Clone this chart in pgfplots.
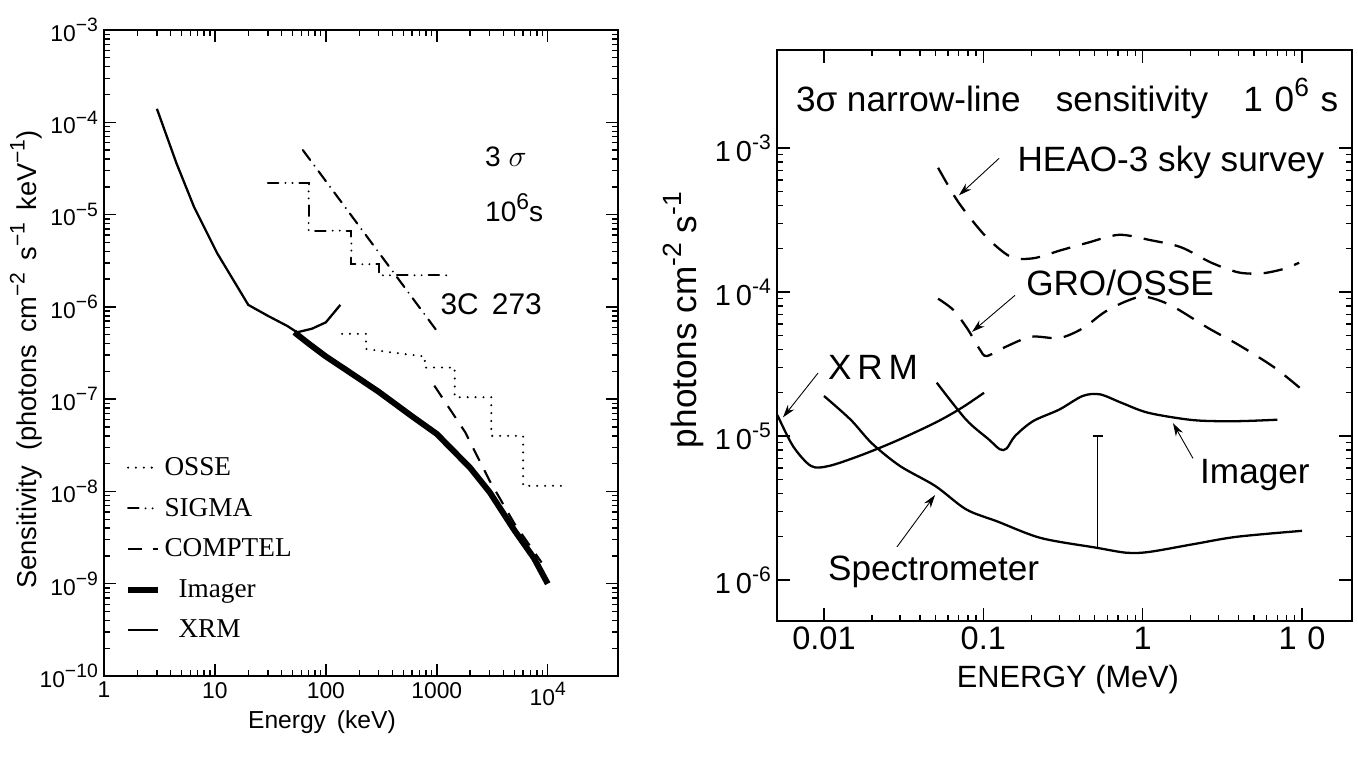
\documentclass[border=0pt]{standalone}
\usepackage{fontspec}
\setmainfont{Liberation Sans}
\newfontfamily\legfont{Liberation Serif}
\usepackage{pgfplots}
\pgfplotsset{compat=1.18}
\usetikzlibrary{arrows.meta}
% raised exponent of a given size
\newcommand\sups[2]{\raisebox{0.42em}{\fontsize{#1}{#1}\selectfont #2}}
\newcommand\lexp[1]{10\sups{11}{−#1}}
\newcommand\rexp[1]{1\,0\sups{12}{-#1}}

\begin{document}
\begin{tikzpicture}
\useasboundingbox (0,0) rectangle (271.6mm,152mm);

% ---------------- left panel: continuum sensitivity ----------------
\begin{axis}[
  at={(20.8mm,16.8mm)}, anchor=south west,
  width=102.8mm, height=129.2mm, scale only axis,
  xmode=log, ymode=log,
  xmin=1, xmax=4.3e4, ymin=1e-10, ymax=1e-3,
  xtick={1,10,100,1000,10000},
  xticklabels={1,10,100,1000,10\sups{11}{4}},
  ytick={1e-10,1e-9,1e-8,1e-7,1e-6,1e-5,1e-4,1e-3},
  yticklabels={\lexp{10},\lexp{9},\lexp{8},\lexp{7},\lexp{6},\lexp{5},\lexp{4},\lexp{3}},
  tick align=inside, major tick length=2.4mm, minor tick length=1.2mm,
  tick style={black, line width=0.8pt},
  axis line style={line width=1.3pt},
  tick label style={font=\fontsize{13}{15}\selectfont},
  xlabel={Energy\, (keV)},
  ylabel={Sensitivity\ \ (photons\, cm\sups{12}{−2}\, s\sups{12}{−1}\, keV\sups{12}{−1})},
  xlabel style={font=\fontsize{14}{16}\selectfont, at={(axis description cs:0.424,-0.071)}, anchor=center},
  ylabel style={font=\fontsize{15.5}{17}\selectfont, at={(axis description cs:-0.152,0.49)}, anchor=center},
  legend style={draw=none, fill=none, at={(0.03,0.35)}, anchor=north west,
    font=\legfont\fontsize{15.5}{17}\selectfont, row sep=2.6mm, legend cell align=left},
]
% OSSE
\addplot[black, line width=1.3pt, line cap=round, dash pattern=on 0pt off 4.5pt] coordinates {
(140,5.1e-7) (230,5.1e-7) (230,3.5e-7) (400,3.2e-7) (780,2.9e-7) (780,2.2e-7)
(1450,2.2e-7) (1450,1.05e-7) (3100,1.05e-7) (3100,4e-8) (6000,4e-8)
(6000,1.15e-8) (1.5e4,1.15e-8)};
\addlegendentry{OSSE}
% SIGMA
\addplot[black, line width=1.2pt, line cap=round, dash pattern=on 6pt off 4pt on 0pt off 4pt on 0pt off 4pt] coordinates {
(30,2.2e-5) (70,2.2e-5) (70,6.7e-6) (170,6.7e-6) (170,2.9e-6) (300,2.9e-6) (300,2.2e-6) (1300,2.2e-6)};
\addlegendentry{SIGMA}
% COMPTEL
\addplot[black, line width=1.2pt, dash pattern=on 8pt off 6pt] coordinates {
(950,1.4e-7) (1800,4.4e-8) (3000,1.3e-8) (5000,4.5e-9) (8800,1.7e-9)};
\addlegendentry{COMPTEL}
% Imager
\addplot[black, line width=3.4pt] coordinates {
(52,5.3e-7) (70,4e-7) (100,2.9e-7) (150,2.1e-7) (300,1.2e-7) (600,6.5e-8)
(1000,4.2e-8) (2000,1.8e-8) (3000,9.8e-9) (5000,3.8e-9) (7500,1.9e-9) (10000,1e-9)};
\addlegendentry{\hspace{2.8mm}Imager}
% XRM
\addplot[black, line width=1.3pt] coordinates {
(3,1.4e-4) (4.5,3.6e-5) (6.5,1.2e-5) (10.5,3.8e-6) (20,1.05e-6) (30,8e-7) (45,6.2e-7) (55,5.3e-7)
(75,5.8e-7) (100,6.8e-7) (135,1.05e-6)};
\addlegendentry{\hspace{2.8mm}XRM}
% 3C 273
\addplot[black, line width=1.2pt, line cap=round, dash pattern=on 7pt off 4pt on 0pt off 4pt, forget plot] coordinates {
(62,5e-5) (1000,5.5e-7)};

\node[anchor=west, font=\fontsize{16}{18}\selectfont] at (axis cs:2400,4.2e-5) {3 $\sigma$};
\node[anchor=west, font=\fontsize{16}{18}\selectfont] at (axis cs:2400,1.2e-5) {10\sups{13}{6}s};
\node[anchor=west, font=\fontsize{17}{19}\selectfont] at (axis cs:950,1.07e-6) {3C\, 273};
\end{axis}

% ---------------- right panel: narrow-line sensitivity ----------------
\begin{axis}[
  at={(155.4mm,27.8mm)}, anchor=south west,
  width=115mm, height=114.2mm, scale only axis,
  xmode=log, ymode=log,
  xmin=0.00507, xmax=20.6, ymin=5.2e-7, ymax=4.8e-3,
  xtick={0.01,0.1,1,10},
  xticklabels={0.01,0.1,1,1\,\,0},
  ytick={1e-6,1e-5,1e-4,1e-3},
  yticklabels={\rexp{6},\rexp{5},\rexp{4},\rexp{3}},
  tick align=inside, major tick length=2.6mm, minor tick length=1.3mm,
  tick style={black, line width=0.8pt},
  axis line style={line width=1.1pt},
  xticklabel style={font=\fontsize{18.5}{20}\selectfont},
  yticklabel style={font=\fontsize{16.5}{18}\selectfont},
  xlabel={ENERGY (MeV)},
  ylabel={photons cm\sups{15}{-2} s\sups{15}{-1}},
  xlabel style={font=\fontsize{17.5}{19}\selectfont, at={(axis description cs:0.506,-0.103)}, anchor=center},
  ylabel style={font=\fontsize{20}{22}\selectfont, at={(axis description cs:-0.163,0.527)}, anchor=center},
]
% HEAO-3 sky survey
\addplot[black, line width=1.3pt, smooth, dash pattern=on 11pt off 7pt] coordinates {
(0.052,7.3e-4) (0.067,4.5e-4) (0.084,3.2e-4) (0.109,2.3e-4) (0.15,1.75e-4) (0.207,1.72e-4)
(0.305,1.95e-4) (0.45,2.2e-4) (0.71,2.5e-4) (1.11,2.3e-4) (1.74,2.05e-4) (2.7,1.6e-4)
(4.0,1.37e-4) (5.6,1.35e-4) (7.7,1.45e-4) (9.6,1.6e-4)};
% GRO/OSSE
\addplot[black, line width=1.3pt, smooth, dash pattern=on 11pt off 7pt] coordinates {
(0.052,9e-5) (0.065,7.5e-5) (0.08,5.5e-5) (0.095,4.0e-5) (0.105,3.6e-5) (0.14,4.2e-5)
(0.2,4.9e-5) (0.3,4.8e-5) (0.42,5.6e-5) (0.58,7.3e-5) (0.8,8.7e-5) (1.03,9.3e-5)
(1.5,8.1e-5) (2.6,5.6e-5) (4.0,4.3e-5) (6.7,3.0e-5) (10,2.1e-5)};
% Spectrometer
\addplot[black, line width=1.3pt, smooth] coordinates {
(0.01,1.9e-5) (0.0147,1.3e-5) (0.02,8.9e-6) (0.03,6.2e-6) (0.05,4.5e-6) (0.078,3.1e-6)
(0.123,2.55e-6) (0.23,1.96e-6) (0.51,1.68e-6) (0.79,1.55e-6) (1.1,1.57e-6) (2.1,1.78e-6)
(3.9,2.0e-6) (10,2.2e-6)};
% XRM
\addplot[black, line width=1.3pt, smooth] coordinates {
(0.0051,1.4e-5) (0.0064,8.5e-6) (0.0083,6.2e-6) (0.0107,6.2e-6) (0.0167,7.3e-6)
(0.028,9.2e-6) (0.05,1.24e-5) (0.073,1.57e-5) (0.101,2.0e-5)};
% Imager
\addplot[black, line width=1.3pt, smooth] coordinates {
(0.051,2.35e-5) (0.078,1.3e-5) (0.108,9.5e-6) (0.127,8.1e-6) (0.14,8.2e-6) (0.158,1e-5)
(0.205,1.27e-5) (0.3,1.53e-5) (0.42,1.9e-5) (0.54,1.95e-5) (0.74,1.7e-5) (1.09,1.45e-5)
(2.1,1.29e-5) (3.9,1.27e-5) (7.0,1.3e-5)};
% 511 keV line
\addplot[black, line width=0.5pt] coordinates {(0.52,1.68e-6) (0.52,1e-5)};
\addplot[black, line width=0.8pt] coordinates {(0.485,1e-5) (0.56,1e-5)};

\node[anchor=west, font=\fontsize{20}{22}\selectfont] at (axis cs:0.0061,2.22e-3)
  {3σ narrow-line\quad sensitivity\quad 1\,\,0\sups{15}{6}\,\,s};
\node[anchor=west, font=\fontsize{20}{22}\selectfont] at (axis cs:0.15,7.9e-4) {HEAO-3 sky survey};
\node[anchor=west, font=\fontsize{20}{22}\selectfont] at (axis cs:0.17,1.15e-4) {GRO/OSSE};
\node[anchor=west, font=\fontsize{20}{22}\selectfont] at (axis cs:0.0097,3.0e-5) {X\,R\,M};
\node[anchor=west, font=\fontsize{20}{22}\selectfont] at (axis cs:0.0097,1.14e-6) {Spectrometer};
\node[anchor=west, font=\fontsize{20}{22}\selectfont] at (axis cs:2.1,5.4e-6) {Imager};
\draw[-{Stealth[length=2.6mm,width=1.6mm]}, line width=0.5pt] (axis cs:0.1257,8.5e-4) -- (axis cs:0.0703,4.7e-4);
\draw[-{Stealth[length=2.6mm,width=1.6mm]}, line width=0.5pt] (axis cs:0.158,9.5e-5) -- (axis cs:0.085,5.3e-5);
\draw[-{Stealth[length=2.6mm,width=1.6mm]}, line width=0.5pt] (axis cs:0.00917,2.74e-5) -- (axis cs:0.00553,1.35e-5);
\draw[-{Stealth[length=2.6mm,width=1.6mm]}, line width=0.5pt] (axis cs:0.0287,1.7e-6) -- (axis cs:0.0498,3.9e-6);
\draw[-{Stealth[length=2.6mm,width=1.6mm]}, line width=0.5pt] (axis cs:2.07,7.0e-6) -- (axis cs:1.55,1.23e-5);
\end{axis}
\end{tikzpicture}
\end{document}
